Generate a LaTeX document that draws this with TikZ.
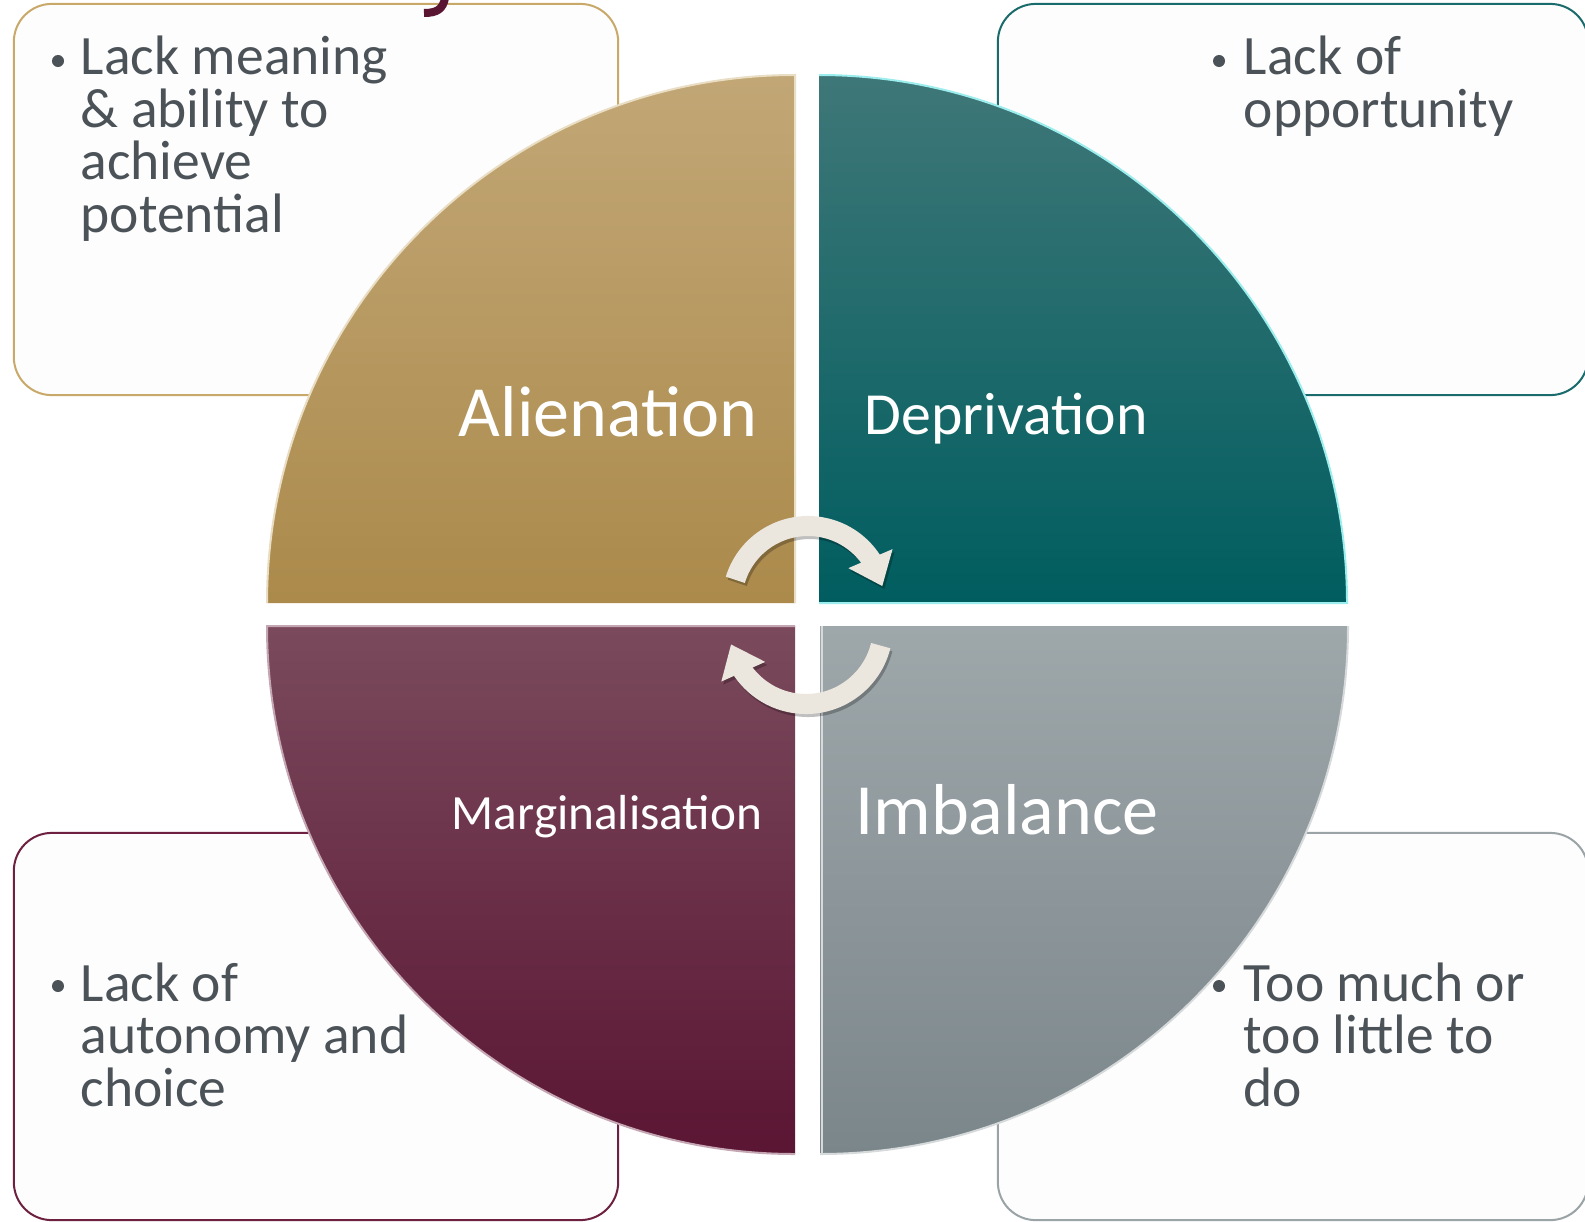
\documentclass[tikz,border=0pt]{standalone}
\usepackage{fontspec}
\setmainfont{Carlito}
\usetikzlibrary{arrows.meta,bending}

% colours
\definecolor{goldtop}{HTML}{C2A776}
\definecolor{goldbot}{HTML}{AB8A4B}
\definecolor{tealtop}{HTML}{3F7778}
\definecolor{tealbot}{HTML}{005D5F}
\definecolor{winetop}{HTML}{7A4A5C}
\definecolor{winebot}{HTML}{5A1533}
\definecolor{greytop}{HTML}{9EA7AA}
\definecolor{greybot}{HTML}{7B868B}
\definecolor{inktext}{HTML}{4B5258}
\definecolor{cream}{HTML}{ECE7DE}
\definecolor{goldline}{HTML}{C9A96A}
\definecolor{tealline}{HTML}{1A6B6B}
\definecolor{wineline}{HTML}{6E2040}
\definecolor{greyline}{HTML}{9AA3A6}
\definecolor{boxfill}{HTML}{FDFDFD}

\newcommand{\bodyfont}{\fontsize{15.8}{14.9}\selectfont}

\tikzset{
  sidebox/.style={draw=#1, line width=0.02cm, fill=boxfill, rounded corners=0.38cm, inner sep=0pt},
  bulletdot/.style={circle, fill=inktext, inner sep=0pt, minimum size=0.12cm},
  itemtext/.style={anchor=base west, align=left, inner sep=0pt, text=inktext, font=\bodyfont},
  quadlabel/.style={anchor=base, inner sep=0pt, text=white},
  rim/.style={line width=0.02cm, draw=#1},
  cyclearrow/.style={line width=0.2cm, draw=cream, -{Triangle[width=0.46cm,length=0.3cm]}},
  cycleshadow/.style={line width=0.2cm, draw=black, opacity=0.25, -{Triangle[width=0.46cm,length=0.3cm]}}
}

\begin{document}
\begin{tikzpicture}[x=0.01cm, y=-0.01cm]
    \useasboundingbox (0,0) rectangle (1585,1221);
    \fill[white] (0,0) rectangle (1585,1221);

    % Cajas laterales
    \node[sidebox=goldline, minimum width=6.04cm, minimum height=3.91cm] (boxA) at (316,199.5) {};
    \node[sidebox=tealline, minimum width=5.9cm, minimum height=3.91cm] (boxD) at (1293,199.5) {};
    \node[sidebox=wineline, minimum width=6.04cm, minimum height=3.87cm] (boxM) at (316,1026.5) {};
    \node[sidebox=greyline, minimum width=5.9cm, minimum height=3.87cm] (boxI) at (1293,1026.5) {};

    % trozo del titulo cortado
    \draw[line width=0.08cm, draw=winebot] (445,-2) .. controls (443,9) and (437,13) .. (424,13);

    % Textos de las cajas (anclados en la ultima linea)
    \node[bulletdot] (dotA) at (58,61) {};
    \node[itemtext] (textA) at (80,232) {Lack meaning\\\& ability to\\achieve\\potential};
    \node[bulletdot] (dotD) at (1219,61) {};
    \node[itemtext] (textD) at (1243,127) {Lack of\\opportunity};
    \node[bulletdot] (dotM) at (58,986) {};
    \node[itemtext] (textM) at (80,1106) {Lack of\\autonomy and\\choice};
    \node[bulletdot] (dotI) at (1219,986) {};
    \node[itemtext] (textI) at (1243,1106) {Too much or\\too little to\\do};

    % Cuadrantes
    \shade[top color=goldtop, bottom color=goldbot] (795,603) -- (267,603) arc[start angle=180, end angle=270, radius=528] -- cycle;
    \shade[top color=tealtop, bottom color=tealbot] (819,603) -- (819,75) arc[start angle=270, end angle=360, radius=528] -- cycle;
    \shade[top color=greytop, bottom color=greybot] (820,626) -- (1348,626) arc[start angle=0, end angle=90, radius=528] -- cycle;
    \shade[top color=winetop, bottom color=winebot] (795,626) -- (795,1154) arc[start angle=90, end angle=180, radius=528] -- cycle;

    % bordes claros
    \draw[rim=goldline!40!white] (267,603) arc[start angle=180, end angle=270, radius=528] -- (795,603);
    \draw[rim=tealline!30!cyan!40!white] (819,75) arc[start angle=270, end angle=360, radius=528] -- (819,603);
    \draw[rim=greyline!40!white] (1348,626) arc[start angle=0, end angle=90, radius=528];
    \draw[rim=wineline!40!white] (795,1154) arc[start angle=90, end angle=180, radius=528] -- (795,626);
    \draw[rim=greyline!40!white] (822,626) -- (822,1154);

    % Etiquetas
    \node[quadlabel, font=\fontsize{20.5}{24}\selectfont] (alien) at (608,436) {Alienation};
    \node[quadlabel, font=\fontsize{17}{20}\selectfont] (depriv) at (1006,434) {Deprivation};
    \node[quadlabel, font=\fontsize{20.5}{24}\selectfont] (imbal) at (1007,834) {Imbalance};
    \node[quadlabel, font=\fontsize{14}{17}\selectfont] (margin) at (607,829) {Marginalisation};

    % Flechas del ciclo
    \coordinate (hubtop) at (808,602);
    \coordinate (hubbot) at (806,627);
    \draw[cycleshadow] ([shift={(197:76)}]hubtop) ++(2,3) arc[start angle=197, end angle=348, radius=76];
    \draw[cyclearrow] ([shift={(197:76)}]hubtop) arc[start angle=197, end angle=348, radius=76];
    \draw[cycleshadow] ([shift={(14:77)}]hubbot) ++(2,3) arc[start angle=14, end angle=167, radius=77];
    \draw[cyclearrow] ([shift={(14:77)}]hubbot) arc[start angle=14, end angle=167, radius=77];
\end{tikzpicture}
\end{document}
